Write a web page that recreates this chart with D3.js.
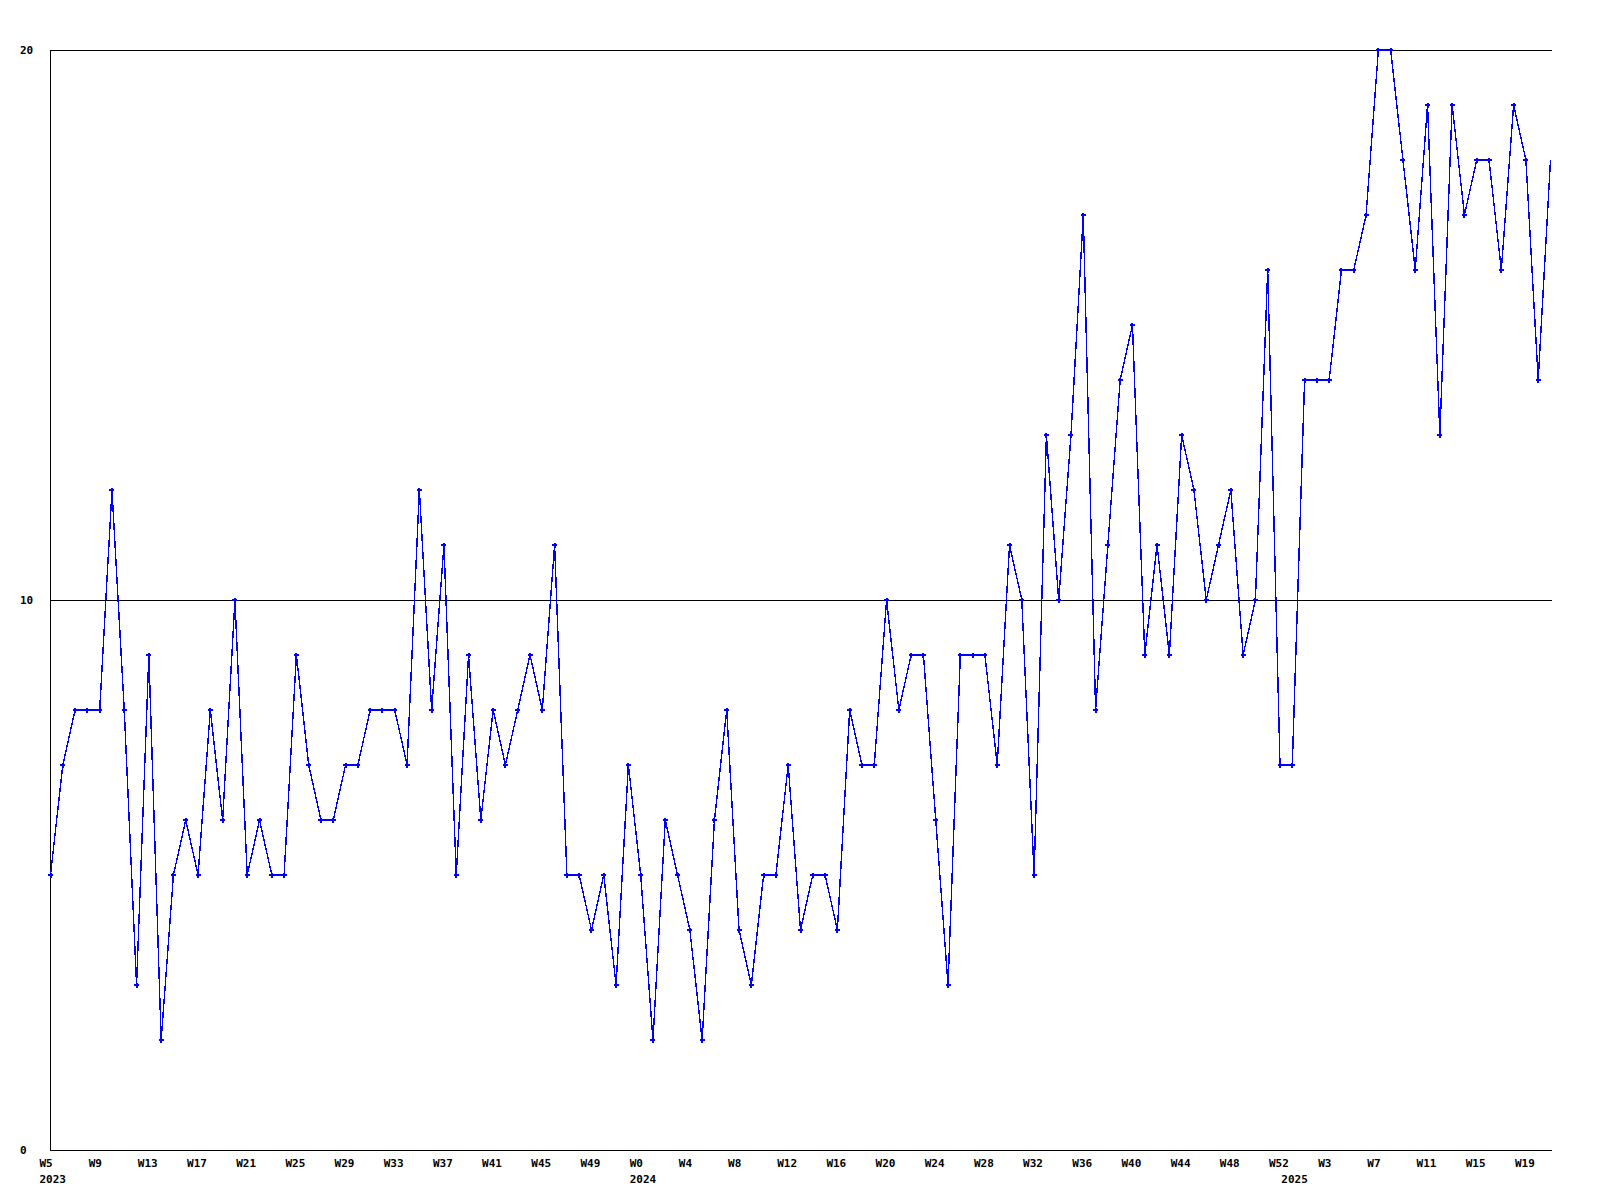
<!DOCTYPE html>
<html>
<head>
<meta charset="utf-8">
<script src="https://cdn.jsdelivr.net/npm/d3@7"></script>
<style>
  html, body { margin: 0; padding: 0; background: #ffffff; }
  svg { display: block; }
  text { font-family: "DejaVu Sans Mono", "Liberation Mono", monospace; font-size: 11px; font-weight: bold; fill: #000; }
</style>
</head>
<body>
<svg id="chart" width="1600" height="1200"></svg>
<script>
// Week ranges covered by the series (year, first week, last week)
const years = [2023, 2024, 2025];
const firstWeek = [5, 0, 0];
const lastWeek = [52, 52, 21];

// Weekly values, one per week, in order
const values = [
  5, 7, 8, 8, 8, 12, 8, 3, 9, 2,
  5, 6, 5, 8, 6, 10, 5, 6, 5, 5,
  9, 7, 6, 6, 7, 7, 8, 8, 8, 7,
  12, 8, 11, 5, 9, 6, 8, 7, 8, 9,
  8, 11, 5, 5, 4, 5, 3, 7, 5, 2,
  6, 5, 4, 2, 6, 8, 4, 3, 5, 5,
  7, 4, 5, 5, 4, 8, 7, 7, 10, 8,
  9, 9, 6, 3, 9, 9, 9, 7, 11, 10,
  5, 13, 10, 13, 17, 8, 11, 14, 15, 9,
  11, 9, 13, 12, 10, 11, 12, 9, 10, 16,
  7, 7, 14, 14, 14, 16, 16, 17, 20, 20,
  18, 16, 19, 13, 19, 17, 18, 18, 16, 19,
  18, 14, 18
];

const yTicks = [0, 10, 20];
const gridValues = [10, 20];
const labelEvery = 4;

(function () {
  const categories = [];
  years.forEach((yr, k) => {
    for (let w = firstWeek[k]; w <= lastWeek[k]; w++) {
      categories.push({ year: yr, week: w, first: w === firstWeek[k] });
    }
  });

  const svg = d3.select("#chart");
  const pLeft = 50.5, pRight = 1550.5, pTop = 50, pBottom = 1150;

  const x = d3.scaleLinear().domain([0, values.length - 1]).range([pLeft, pRight]);
  const y = d3.scaleLinear().domain([0, 20]).range([pBottom, pTop]);

  // Gridlines
  svg.append("g").selectAll("line").data(gridValues).join("line")
    .attr("x1", pLeft).attr("x2", pRight + 1)
    .attr("y1", d => Math.round(y(d)) + 0.5).attr("y2", d => Math.round(y(d)) + 0.5)
    .attr("stroke", "#000").attr("stroke-width", 1).attr("shape-rendering", "crispEdges");

  // Axes lines
  svg.append("line").attr("x1", pLeft).attr("x2", pLeft).attr("y1", pTop).attr("y2", pBottom + 0.5)
    .attr("stroke", "#000").attr("shape-rendering", "crispEdges");
  svg.append("line").attr("x1", pLeft).attr("x2", pRight + 1).attr("y1", pBottom + 0.5).attr("y2", pBottom + 0.5)
    .attr("stroke", "#000").attr("shape-rendering", "crispEdges");

  // Y labels
  svg.append("g").selectAll("text").data(yTicks).join("text")
    .attr("x", 20).attr("y", d => y(d) + 4)
    .text(d => d);

  // X week labels
  const xl = svg.append("g");
  categories.forEach((c, i) => {
    if (i % labelEvery === 0) {
      xl.append("text").attr("x", x(i) - 11).attr("y", 1167).text("W" + c.week);
    }
    if (c.first) {
      xl.append("text").attr("x", x(i) - 11).attr("y", 1183).text(c.year);
    }
  });

  // Line
  const line = d3.line().x((d, i) => x(i)).y(d => y(d));
  svg.append("path").datum(values)
    .attr("d", line)
    .attr("fill", "none").attr("stroke", "#0000ff").attr("stroke-width", 1.4)
    .attr("shape-rendering", "crispEdges");

  // Markers (small plus with solid centre)
  const markerPath = "M-2.5,-1h5v2h-5z M-1,-2.5h2v5h-2z";
  svg.append("g").selectAll("path").data(values.slice(0, values.length - 1)).join("path")
    .attr("transform", (d, i) => `translate(${x(i)},${y(d)})`)
    .attr("d", markerPath)
    .attr("fill", "#0000ff")
    .attr("shape-rendering", "crispEdges");
})();
</script>
</body>
</html>
